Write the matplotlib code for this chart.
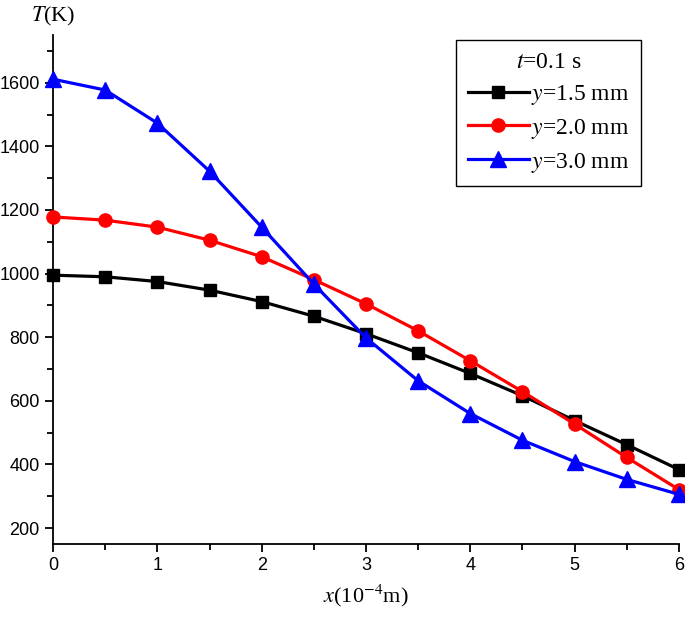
import matplotlib

matplotlib.use("Agg")
import matplotlib.pyplot as plt
from matplotlib.ticker import MultipleLocator

# positions along x, in units of 1e-4 m
x_positions = [0, 0.5, 1, 1.5, 2, 2.5, 3, 3.5, 4, 4.5, 5, 5.5, 6]

# temperature (K) at t = 0.1 s for three depths
temp_y15 = [995, 990, 975, 948, 912, 866, 811, 751, 686, 616, 538, 462, 384]
temp_y20 = [1178, 1168, 1146, 1105, 1053, 981, 905, 820, 726, 629, 527, 422, 321]
temp_y30 = [1611, 1577, 1473, 1322, 1146, 967, 798, 663, 560, 476, 409, 353, 306]

series_labels = ["$y$=1.5 mm", "$y$=2.0 mm", "$y$=3.0 mm"]
legend_title = "$t$=0.1 s"

plt.rcParams["mathtext.fontset"] = "stix"
plt.rcParams["font.family"] = ["Liberation Sans", "DejaVu Sans"]

figure = plt.figure(figsize=(6.85, 6.17), dpi=100)
axis = figure.add_axes([0.0774, 0.1183, 0.9138, 0.825])

styles = [
    dict(color="black", marker="s", markersize=8),
    dict(color="#ff0000", marker="o", markersize=9.5),
    dict(color="#0000ff", marker="^", markersize=11),
]
for values, label, style in zip((temp_y15, temp_y20, temp_y30), series_labels, styles):
    axis.plot(
        x_positions,
        values,
        linewidth=2.3,
        label=label,
        clip_on=False,
        zorder=3,
        **style,
    )

axis.set_xlim(0, 6)
axis.set_ylim(150, 1750)
axis.xaxis.set_major_locator(MultipleLocator(1))
axis.xaxis.set_minor_locator(MultipleLocator(0.5))
axis.yaxis.set_major_locator(MultipleLocator(200))
axis.yaxis.set_minor_locator(MultipleLocator(100))
axis.set_yticks(range(200, 1700, 200))

for side in ("top", "right"):
    axis.spines[side].set_visible(False)
for side in ("left", "bottom"):
    axis.spines[side].set_linewidth(1.3)
axis.tick_params(which="major", direction="out", length=6, width=1.3, labelsize=13)
axis.tick_params(which="minor", direction="out", length=4, width=1.3)

serif = ["Liberation Serif", "DejaVu Serif"]
figure.text(
    53 / 685, 1 - 16 / 617, "$T$(K)", ha="center", va="center",
    fontsize=16, family=serif,
)
axis.set_xlabel("$x$(10$^{-4}$m)", fontsize=16, family=serif, labelpad=6)

legend = axis.legend(
    title=legend_title,
    loc="upper right",
    bbox_to_anchor=(0.94, 0.99),
    handlelength=2.6,
    handletextpad=0.1,
    borderpad=0.5,
    borderaxespad=0.0,
    labelspacing=0.42,
    fancybox=False,
    framealpha=1,
    edgecolor="black",
    prop={"family": serif, "size": 17},
    title_fontproperties={"family": serif, "size": 17},
)
legend.get_frame().set_linewidth(1.0)

figure.savefig("out.png", dpi=100)
